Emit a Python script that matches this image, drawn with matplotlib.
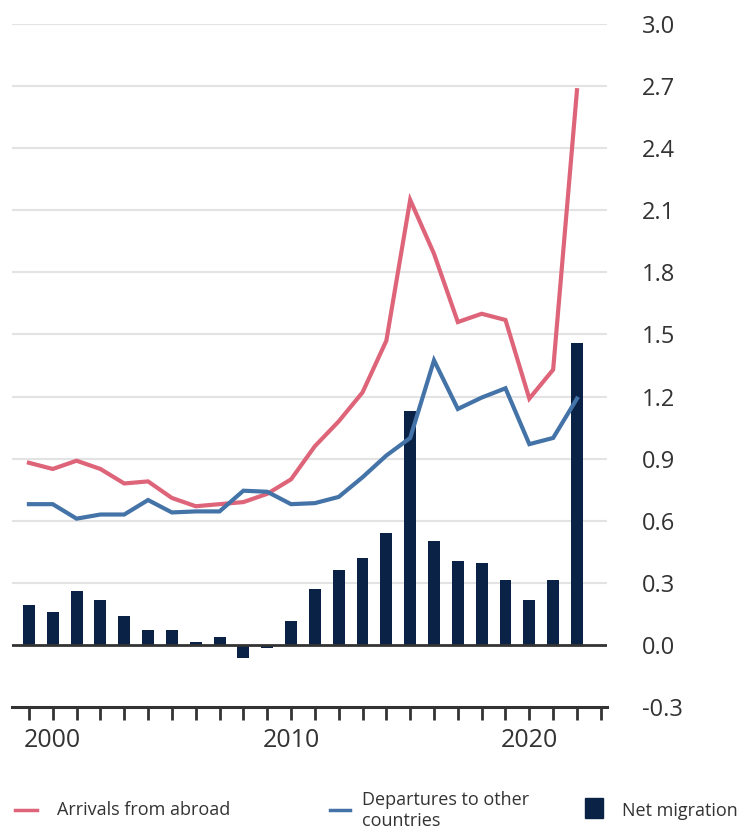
import matplotlib
matplotlib.use("Agg")
import matplotlib.pyplot as plt
from matplotlib.lines import Line2D
from matplotlib.patches import Rectangle
import numpy as np

years = list(range(1999, 2023))
arrivals = [0.88, 0.85, 0.89, 0.85, 0.78, 0.79, 0.71, 0.67, 0.68, 0.69, 0.73, 0.80,
            0.96, 1.08, 1.22, 1.47, 2.15, 1.89, 1.56, 1.60, 1.57, 1.19, 1.33, 2.68]
departures = [0.68, 0.68, 0.61, 0.63, 0.63, 0.70, 0.64, 0.645, 0.645, 0.745, 0.74, 0.68,
              0.685, 0.715, 0.81, 0.915, 1.00, 1.375, 1.14, 1.195, 1.24, 0.97, 1.00, 1.19]
net = [0.195, 0.16, 0.26, 0.215, 0.138, 0.07, 0.07, 0.015, 0.038, -0.062, -0.015, 0.115,
       0.27, 0.36, 0.42, 0.54, 1.13, 0.50, 0.405, 0.394, 0.316, 0.216, 0.316, 1.457]
yticks = [-0.3, 0.0, 0.3, 0.6, 0.9, 1.2, 1.5, 1.8, 2.1, 2.4, 2.7, 3.0]
xlabels = [2000, 2010, 2020]

RED = "#DE6479"
BLUE = "#4473A8"
NAVY = "#0B2247"
GRID = "#E3E3E3"
DARK = "#333333"
TXT = "#333333"

plt.rcParams['font.family'] = ['Open Sans', 'DejaVu Sans']

W, H = 746, 834
fig = plt.figure(figsize=(W / 100, H / 100), dpi=100)
ax = fig.add_axes([12 / W, 1 - 707 / H, (607 - 12) / W, (707 - 24) / H])

ax.set_xlim(1998.29, 2023.26)
ax.set_ylim(-0.3, 3.0)

for t in yticks[2:]:
    ax.axhline(t, color=GRID, lw=1.5, zorder=0)
ax.axhline(0.0, color=DARK, lw=2, zorder=3)

ax.bar(years, net, width=0.5, color=NAVY, zorder=2)
ax.plot(years, arrivals, color=RED, lw=3, zorder=4, solid_joinstyle='miter')
ax.plot(years, departures, color=BLUE, lw=3, zorder=4, solid_joinstyle='miter')

for s in ['top', 'left', 'right']:
    ax.spines[s].set_visible(False)
ax.spines['bottom'].set_color(DARK)
ax.spines['bottom'].set_linewidth(2.2)

ax.yaxis.tick_right()
ax.set_yticks(yticks)
ax.set_yticklabels([f"{v:.1f}" for v in yticks])
ax.tick_params(axis='y', length=0, pad=25, labelsize=17, labelcolor=TXT)

ax.set_xticks(list(range(1999, 2024)), minor=True)
ax.set_xticks(xlabels)
ax.set_xticklabels([str(v) for v in xlabels])
ax.tick_params(axis='x', which='both', length=9, width=2, color=DARK, direction='out',
               labelsize=18, labelcolor=TXT, pad=6)

# legend
ly = 1 - 810 / H
fig.add_artist(Line2D([15 / W, 37 / W], [ly, ly], color=RED, lw=2.5))
fig.text(57 / W, ly, "Arrivals from abroad", fontsize=13, color=TXT, va='center', ha='left')
fig.add_artist(Line2D([330 / W, 350 / W], [ly, ly], color=BLUE, lw=2.5))
fig.text(362 / W, 1 - 800 / H, "Departures to other", fontsize=13, color=TXT, va='center', ha='left')
fig.text(362 / W, 1 - 821 / H, "countries", fontsize=13, color=TXT, va='center', ha='left')
fig.add_artist(Rectangle((585 / W, 1 - 818 / H), 18 / W, 20 / H, color=NAVY, transform=fig.transFigure))
fig.text(622 / W, ly - 1 / H, "Net migration", fontsize=13, color=TXT, va='center', ha='left')

fig.savefig("out.png", dpi=100)
